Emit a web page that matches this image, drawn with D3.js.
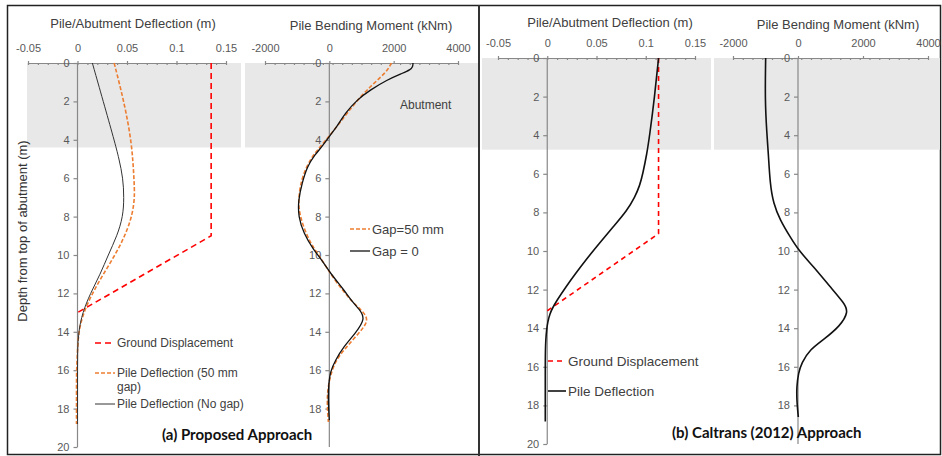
<!DOCTYPE html>
<html>
<head>
<meta charset="utf-8">
<script src="https://cdn.jsdelivr.net/npm/d3@7"></script>
<style>
body { margin: 0; background: #fff; }
svg { display: block; font-family: "Liberation Sans", Arial, sans-serif; }
.axis text { fill: #595959; font-size: 11px; }
.axis path, .axis line { stroke: #888; stroke-width: 1.2; }
.ttl { fill: #404040; font-size: 13px; text-anchor: middle; }
.leg { fill: #404040; }
.big { font-family: Lato, "Open Sans", sans-serif; font-weight: bold; font-size: 15px; fill: #111; }
</style>
</head>
<body>
<script>
// depth in m, values as [value, depth]
const depthTicks = [0, 2, 4, 6, 8, 10, 12, 14, 16, 18, 20]
const defTicks = [-0.05, 0, 0.05, 0.1, 0.15]
const momTicks = [-2000, 0, 2000, 4000]

// (a) proposed approach
const groundA = [[0.135, 0], [0.135, 9.0], [0, 13.0]]
const pileGapA = [[0.037, 0], [0.047, 2], [0.055, 4.2], [0.057, 6], [0.058, 7], [0.055, 8], [0.048, 9],
  [0.038, 10], [0.026, 11], [0.015, 12], [0.006, 13], [0.001, 14], [0, 15], [-0.001, 16], [-0.001, 17],
  [-0.001, 18], [-0.001, 18.8]]
const pileNoGapA = [[0.015, 0], [0.026, 2], [0.037, 4], [0.042, 5], [0.046, 6], [0.047, 7], [0.046, 8],
  [0.040, 9], [0.031, 10], [0.023, 11], [0.013, 12], [0.005, 13], [0.001, 14], [0, 15], [0, 16],
  [0, 17], [0, 18], [0, 18.8]]
const momGapA = [[1930, 0], [1790, 0.45], [1380, 1.06], [965, 1.75], [550, 2.62], [240, 3.3], [-20, 3.84],
  [-300, 4.4], [-560, 4.9], [-850, 5.92], [-940, 6.79], [-965, 7.5], [-850, 8.35], [-590, 9.39],
  [-330, 10.0], [-70, 10.7], [240, 11.47], [650, 12.34], [1020, 12.9], [1250, 13.4], [910, 14.08],
  [500, 14.86], [190, 15.5], [30, 16.3], [-40, 16.9], [-70, 17.55], [-50, 18.2], [-30, 18.7]]
const momNoGapA = [[2600, 0], [2600, 0.18], [2520, 0.36], [2260, 0.54], [1790, 0.88], [1275, 1.4],
  [860, 1.92], [500, 2.6], [240, 3.3], [30, 3.75], [-200, 4.3], [-460, 4.8], [-690, 5.4], [-850, 6.27],
  [-965, 7.14], [-965, 8.0], [-800, 8.87], [-490, 9.74], [-230, 10.26], [30, 10.95], [445, 11.8],
  [700, 12.4], [930, 12.83], [1130, 13.3], [810, 14.08], [445, 14.77], [190, 15.47], [30, 16.07],
  [-20, 16.68], [-40, 17.55], [0, 18.6]]

// (b) Caltrans (2012) approach
const groundB = [[0.113, 0], [0.113, 9.1], [0, 13.1]]
const pileB = [[0.113, 0], [0.109, 2], [0.104, 4], [0.101, 5], [0.097, 6], [0.094, 6.6], [0.089, 7.2],
  [0.081, 7.9], [0.067, 8.74], [0.053, 9.6], [0.039, 10.47], [0.029, 11.15], [0.019, 11.85], [0.010, 12.54],
  [0.002, 13.23], [-0.001, 14.1], [-0.002, 15.1], [-0.002, 16.5], [-0.002, 17.7], [-0.002, 18.84]]
const momB = [[-995, 0], [-1015, 2.18], [-960, 3.9], [-910, 5.0], [-860, 6.5], [-760, 7.53], [-550, 8.4],
  [-245, 9.26], [10, 9.95], [470, 10.8], [985, 11.85], [1420, 12.7], [1560, 13.15], [1290, 13.9],
  [780, 14.6], [370, 15.1], [110, 15.8], [10, 16.34], [-40, 17.03], [-40, 17.7], [10, 18.6]]

const abutA = 4.4
const abutB = 4.75

const W = 942, H = 456

const svg = d3.select('body').append('svg')
  .attr('width', W)
  .attr('height', H)

const red = '#ff0000', orange = '#ed7d31', black = '#111'

function panel(cfg) {
  const x = d3.scaleLinear().domain(cfg.domain).range(cfg.xr)
  const y = d3.scaleLinear().domain([0, 20]).range(cfg.yr)
  const g = svg.append('g')

  // abutment shading
  g.append('rect')
    .attr('x', cfg.shade[0]).attr('width', cfg.shade[1] - cfg.shade[0])
    .attr('y', y(0)).attr('height', y(cfg.abut) - y(0))
    .attr('fill', '#e8e8e8')

  const step = (cfg.domain[1] - cfg.domain[0]) / 20
  const minor = d3.range(21).map(i => cfg.domain[0] + i * step)

  g.append('g')
    .attr('class', 'axis')
    .attr('transform', `translate(0,${y(0)})`)
    .call(d3.axisBottom(x).tickValues(minor).tickSize(2).tickSizeOuter(0).tickFormat(''))
  g.append('g')
    .attr('class', 'axis')
    .attr('transform', `translate(0,${y(0)})`)
    .call(d3.axisTop(x).tickValues(cfg.ticks).tickSize(2).tickSizeOuter(0).tickPadding(cfg.pad)
      .tickFormat(d => d === 0 ? '0' : String(d)))

  const ya = g.append('g')
    .attr('class', 'axis')
    .attr('transform', `translate(${x(0)},0)`)
    .call(d3.axisLeft(y).tickValues(cfg.depthTicks).tickSize(4).tickSizeOuter(0).tickPadding(4))
  ya.select('.domain').attr('d', `M0,${y(0)}V${y(20)}`)

  g.append('text').attr('class', 'ttl')
    .attr('x', cfg.title[0]).attr('y', cfg.title[1])
    .text(cfg.label)

  const line = d3.line().x(d => x(d[0])).y(d => y(d[1]))
  cfg.series.forEach(s => {
    g.append('path')
      .datum(s.data)
      .attr('fill', 'none')
      .attr('stroke', s.color)
      .attr('stroke-width', s.w)
      .attr('stroke-dasharray', s.dash || null)
      .attr('d', line.curve(s.straight ? d3.curveLinear : d3.curveBasis))
  })
  return {x, y, g}
}

// outer frame and divider
svg.append('rect').attr('x', 7.5).attr('y', 5.5).attr('width', 933).attr('height', 449)
  .attr('fill', 'none').attr('stroke', '#222').attr('stroke-width', 1.5)
svg.append('line').attr('x1', 479).attr('x2', 479).attr('y1', 5).attr('y2', 456)
  .attr('stroke', '#333').attr('stroke-width', 2)

panel({
  domain: [-0.05, 0.15], xr: [28, 226], yr: [63, 447], ticks: defTicks, pad: 9,
  depthTicks: depthTicks, abut: abutA, shade: [27, 241],
  title: [133, 28], label: 'Pile/Abutment Deflection (m)',
  series: [
    {data: groundA, color: red, w: 1.6, dash: '6,4', straight: true},
    {data: pileGapA, color: orange, w: 1.6, dash: '4,2'},
    {data: pileNoGapA, color: '#333', w: 1}
  ]
})

panel({
  domain: [-2000, 4000], xr: [265, 458], yr: [63, 447], ticks: momTicks, pad: 9,
  depthTicks: depthTicks.slice(0, 10), abut: abutA, shade: [245, 478],
  title: [371, 30], label: 'Pile Bending Moment (kNm)',
  series: [
    {data: momGapA, color: orange, w: 1.6, dash: '4,2'},
    {data: momNoGapA, color: black, w: 1.3}
  ]
})

panel({
  domain: [-0.05, 0.15], xr: [498, 695], yr: [58, 444], ticks: defTicks, pad: 9,
  depthTicks: depthTicks, abut: abutB, shade: [482, 711],
  title: [610, 27], label: 'Pile/Abutment Deflection (m)',
  series: [
    {data: groundB, color: red, w: 1.6, dash: '5,4', straight: true},
    {data: pileB, color: black, w: 1.6}
  ]
})

panel({
  domain: [-2000, 4000], xr: [733, 928], yr: [58, 444], ticks: momTicks, pad: 9,
  depthTicks: depthTicks.slice(0, 10), abut: abutB, shade: [714, 940],
  title: [838, 29], label: 'Pile Bending Moment (kNm)',
  series: [
    {data: momB, color: black, w: 1.6}
  ]
})

// y axis title
svg.append('text')
  .attr('transform', 'translate(27,231) rotate(-90)')
  .attr('text-anchor', 'middle')
  .style('font-size', '13px')
  .attr('fill', '#333')
  .text('Depth from top of abutment  (m)')

// annotations
svg.append('text').attr('class', 'leg').attr('x', 400).attr('y', 109)
  .style('font-size', '12px').text('Abutment')

function legend(items, x0, len, size) {
  items.forEach(it => {
    svg.append('line')
      .attr('x1', x0).attr('x2', x0 + len).attr('y1', it.y).attr('y2', it.y)
      .attr('stroke', it.color).attr('stroke-width', it.w)
      .attr('stroke-dasharray', it.dash || null)
    const t = svg.append('text').attr('class', 'leg')
      .attr('x', x0 + len + 2).attr('y', it.y + size * 0.36)
      .style('font-size', size + 'px')
    it.text.forEach((s, i) => t.append('tspan').attr('x', x0 + len + 2).attr('dy', i ? size * 1.15 : 0).text(s))
  })
}

legend([
  {y: 343, color: red, w: 1.6, dash: '6,4', text: ['Ground Displacement']},
  {y: 373, color: orange, w: 1.6, dash: '4,2', text: ['Pile Deflection (50 mm', 'gap)']},
  {y: 404, color: '#333', w: 1, text: ['Pile Deflection (No gap)']}
], 95, 20, 12)

legend([
  {y: 229, color: orange, w: 1.6, dash: '4,2', text: ['Gap=50 mm']},
  {y: 251, color: black, w: 1.3, text: ['Gap = 0']}
], 350, 20, 13)

legend([
  {y: 361, color: red, w: 1.6, dash: '5,4', text: ['Ground Displacement']},
  {y: 391, color: black, w: 1.6, text: ['Pile Deflection']}
], 548, 18, 13.5)

svg.append('text').attr('class', 'big').attr('x', 162).attr('y', 440).text('(a) Proposed Approach')
svg.append('text').attr('class', 'big').attr('x', 672).attr('y', 438).text('(b) Caltrans (2012) Approach')
</script>
</body>
</html>
